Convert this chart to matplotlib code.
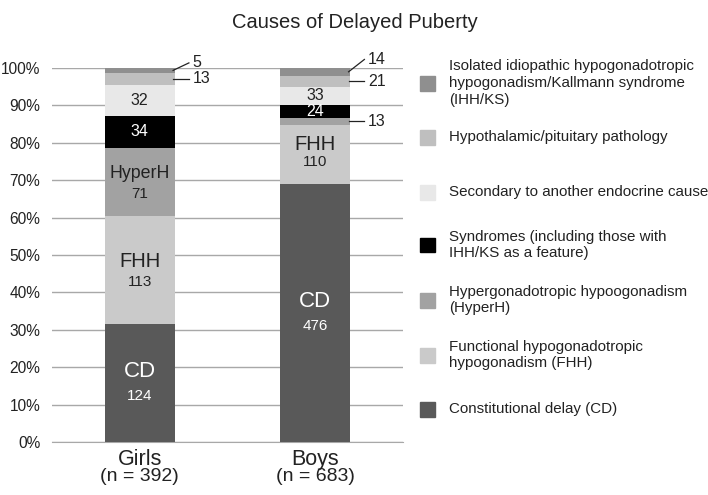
import matplotlib
matplotlib.use("Agg")
import matplotlib.pyplot as plt
from matplotlib.patches import Rectangle
import numpy as np

plt.rcParams['font.family'] = ['Liberation Sans', 'DejaVu Sans']

groups = ["Girls", "Boys"]
group_n = ["(n = 392)", "(n = 683)"]
causes = ["CD", "FHH", "HyperH", "Syndromes", "Secondary", "Hypothalamic", "IHH/KS"]
girls = [124, 113, 71, 34, 32, 13, 5]
boys = [476, 110, 13, 24, 33, 21, 14]
colors = ["#595959", "#cacaca", "#a2a2a2", "#000000", "#e8e8e8", "#bfbfbf", "#8f8f8f"]
legend_labels = [
    "Isolated idiopathic hypogonadotropic\nhypogonadism/Kallmann syndrome\n(IHH/KS)",
    "Hypothalamic/pituitary pathology",
    "Secondary to another endocrine cause",
    "Syndromes (including those with\nIHH/KS as a feature)",
    "Hypergonadotropic hypoogonadism\n(HyperH)",
    "Functional hypogonadotropic\nhypogonadism (FHH)",
    "Constitutional delay (CD)",
]
legend_colors = colors[::-1]
yticks = [0, 10, 20, 30, 40, 50, 60, 70, 80, 90, 100]

W, H = 708, 495
fig = plt.figure(figsize=(W / 100, H / 100), dpi=100)
ax = fig.add_axes([52 / W, 1 - 442 / H, (403 - 52) / W, (442 - 68) / H])

data = np.array([girls, boys], dtype=float)
pct = data / data.sum(axis=1, keepdims=True) * 100
x = np.arange(len(groups))
bw = 0.4
bottoms = np.zeros(len(groups))
for j in range(len(causes)):
    ax.bar(x, pct[:, j], bw, bottom=bottoms, color=colors[j], zorder=3, linewidth=0)
    bottoms += pct[:, j]

ax.set_xlim(-0.5, 1.5)
ax.set_ylim(0, 100)
ax.set_yticks(yticks)
ax.set_yticklabels([f"{t}%" for t in yticks], fontsize=11.2, color="#222222")
ax.set_xticks([])
ax.tick_params(axis='y', length=0, pad=8.5)
ax.yaxis.grid(True, color="#a8a8a8", linewidth=1, zorder=0)
for s in ["top", "right", "left"]:
    ax.spines[s].set_visible(False)
ax.spines["bottom"].set_color("#a8a8a8")
ax.spines["bottom"].set_zorder(1)

# category labels
trans = matplotlib.transforms.blended_transform_factory(ax.transData, fig.transFigure)
for i in range(len(groups)):
    ax.text(x[i], 1 - 465 / H, groups[i], ha="center", va="baseline", fontsize=15.5, color="#222222", transform=trans)
    ax.text(x[i], 1 - 481 / H, group_n[i], ha="center", va="baseline", fontsize=14, color="#222222", transform=trans)

cum = np.cumsum(pct, axis=1)
start = cum - pct
mid = start + pct / 2

def inside(i, j, name, val, color, nsize=15, up=2.3, down=3.2):
    if name:
        ax.text(x[i], mid[i, j] + up, name, ha="center", va="center", fontsize=nsize, color=color, zorder=5)
        ax.text(x[i], mid[i, j] - down, str(val), ha="center", va="center", fontsize=11, color=color, zorder=5)
    else:
        ax.text(x[i], mid[i, j], str(val), ha="center", va="center", fontsize=11.5, color=color, zorder=5)

# girls
inside(0, 0, "CD", girls[0], "white", 16, 3.0, 3.4)
inside(0, 1, "FHH", girls[1], "#222222", 14.5)
inside(0, 2, "HyperH", girls[2], "#222222", 12.8)
inside(0, 3, None, girls[3], "white")
inside(0, 4, None, girls[4], "#222222")
# boys
inside(1, 0, "CD", boys[0], "white", 16, 3.0, 3.4)
inside(1, 1, "FHH", boys[1], "#222222", 14.5, 2.8, 2.0)
inside(1, 3, None, boys[3], "white")
inside(1, 4, None, boys[4], "#222222")

def outside(i, j, val, dy):
    xr = x[i] + bw / 2
    y0 = mid[i, j]
    x1 = xr + 0.08
    y1 = y0 + dy
    ax.plot([xr - 0.01, x1], [y0, y1], color="#222222", lw=0.9, zorder=6, clip_on=False)
    ax.text(x1 + 0.02, y1, str(val), ha="left", va="center", fontsize=11.5, color="#222222", zorder=6)

outside(0, 6, girls[6], 2.0)
outside(0, 5, girls[5], 0)
outside(1, 6, boys[6], 3.3)
outside(1, 5, boys[5], 0)
outside(1, 2, boys[2], 0)

fig.text(355 / W, 1 - 22 / H, "Causes of Delayed Puberty", ha="center", va="center", fontsize=14.5, color="#222222")

# legend
leg_y = [83, 137, 192, 245, 300, 355, 409]
for yy, lab, c in zip(leg_y, legend_labels, legend_colors):
    sq = 15
    fig.patches.append(Rectangle((420 / W, 1 - (yy + sq / 2) / H), sq / W, sq / H,
                                 transform=fig.transFigure, color=c, figure=fig))
    fig.text(449 / W, 1 - yy / H, lab, ha="left", va="center", fontsize=10.9,
             color="#222222", linespacing=1.25)

fig.savefig("out.png", dpi=100)
